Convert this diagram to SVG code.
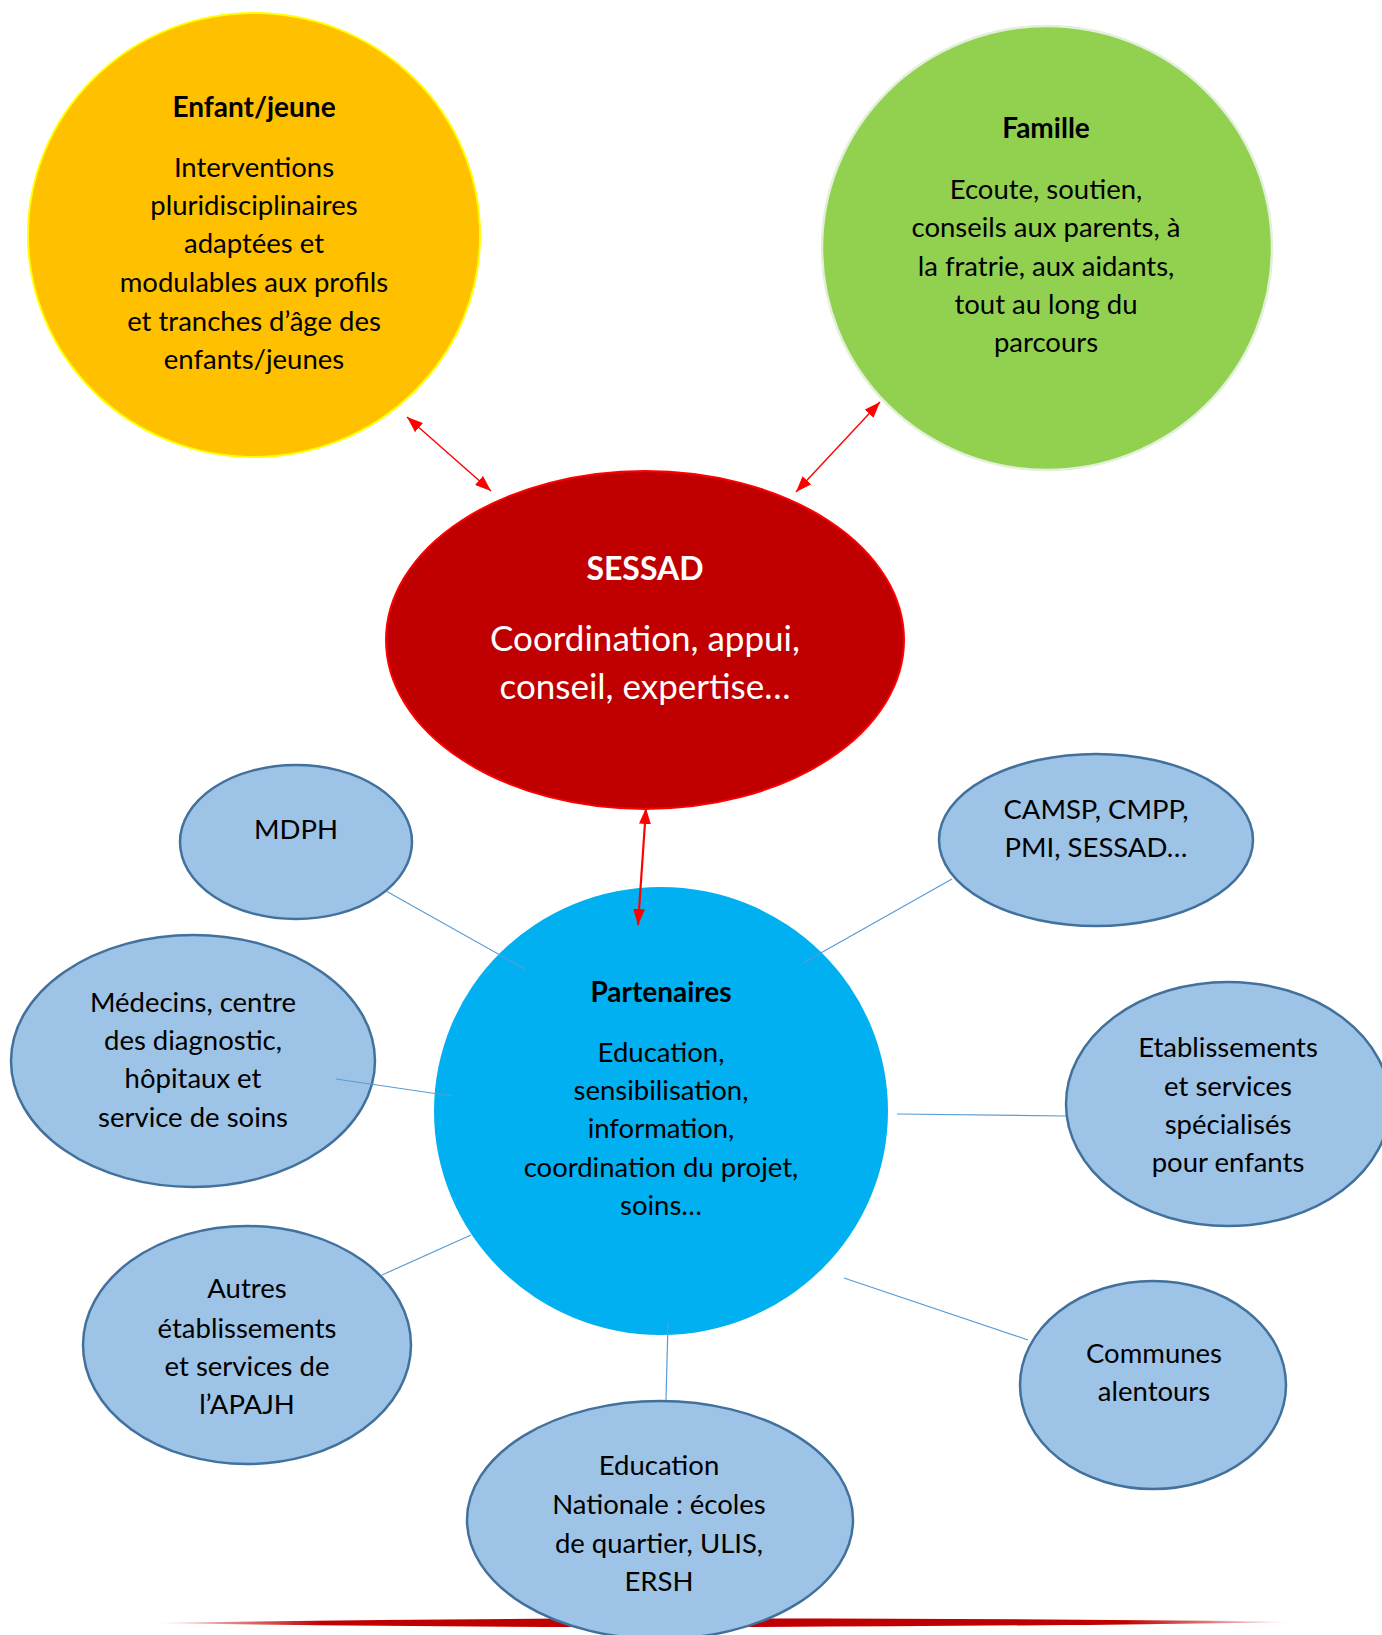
<svg xmlns="http://www.w3.org/2000/svg" width="1382" height="1635" viewBox="0 0 1382 1635">
<defs>
<style>
.t{font-family:Lato,"Open Sans","Liberation Sans",sans-serif;font-size:27.5px;fill:#000;text-anchor:middle}
.b{font-weight:bold;font-size:28px}
.w{fill:#fff}
.s{font-size:35px}
.st{font-size:32px}
.bl{fill:#9DC3E6;stroke:#41719C;stroke-width:2.5}
.cn{stroke:#5B9BD5;stroke-width:1.2;fill:none}
.ar{stroke:#FF0000;stroke-width:1.4;fill:none}
</style>
<marker id="ah" viewBox="0 0 16 12" refX="16" refY="6" markerWidth="16" markerHeight="12" markerUnits="userSpaceOnUse" orient="auto-start-reverse">
<path d="M0,0 L16,6 L0,12 Z" fill="#FF0000"/>
</marker>
<linearGradient id="rg" x1="0" x2="1" y1="0" y2="0">
<stop offset="0" stop-color="#C00000" stop-opacity="0"/>
<stop offset="0.15" stop-color="#C00000"/>
<stop offset="0.85" stop-color="#C00000"/>
<stop offset="1" stop-color="#C00000" stop-opacity="0"/>
</linearGradient>
</defs>
<rect width="1382" height="1635" fill="#fff"/>
<path d="M150,1623 C500,1617 900,1617 1298,1622 C900,1628 500,1629 150,1623 Z" fill="url(#rg)"/>

<g id="enfant">
<ellipse cx="254" cy="235" rx="226" ry="222" fill="#FFC000" stroke="#FFFF00" stroke-width="2"/>
<text class="t b" x="254" y="117">Enfant/jeune</text>
<text class="t" x="254" y="177">Interventions</text>
<text class="t" x="254" y="215">pluridisciplinaires</text>
<text class="t" x="254" y="253">adaptées et</text>
<text class="t" x="254" y="292">modulables aux profils</text>
<text class="t" x="254" y="331">et tranches d’âge des</text>
<text class="t" x="254" y="369">enfants/jeunes</text>
</g>

<g id="famille">
<ellipse cx="1047" cy="248" rx="225" ry="222" fill="#92D050" stroke="#E2F0D9" stroke-width="2.5"/>
<text class="t b" x="1046" y="138">Famille</text>
<text class="t" x="1046" y="199">Ecoute, soutien,</text>
<text class="t" x="1046" y="237">conseils aux parents, à</text>
<text class="t" x="1046" y="276">la fratrie, aux aidants,</text>
<text class="t" x="1046" y="314">tout au long du</text>
<text class="t" x="1046" y="352">parcours</text>
</g>

<g id="sessad">
<ellipse cx="645" cy="640" rx="259" ry="169" fill="#C00000" stroke="#FF0000" stroke-width="2"/>
<text class="t b w st" x="645" y="580">SESSAD</text>
<text class="t w s" x="645" y="651">Coordination, appui,</text>
<text class="t w s" x="645" y="699">conseil, expertise…</text>
</g>

<g id="partenaires">
<ellipse cx="661" cy="1111" rx="227" ry="224" fill="#00B0F0"/>
<text class="t b" x="661" y="1002">Partenaires</text>
<text class="t" x="661" y="1062">Education,</text>
<text class="t" x="661" y="1100">sensibilisation,</text>
<text class="t" x="661" y="1138">information,</text>
<text class="t" x="661" y="1177">coordination du projet,</text>
<text class="t" x="661" y="1215">soins…</text>
</g>

<g id="mdph">
<ellipse class="bl" cx="296" cy="842" rx="116" ry="77"/>
<text class="t" x="296" y="839">MDPH</text>
</g>

<g id="medecins">
<ellipse class="bl" cx="193" cy="1061" rx="182" ry="126"/>
<text class="t" x="193" y="1012">Médecins, centre</text>
<text class="t" x="193" y="1050">des diagnostic,</text>
<text class="t" x="193" y="1088">hôpitaux et</text>
<text class="t" x="193" y="1127">service de soins</text>
</g>

<g id="camsp">
<ellipse class="bl" cx="1096" cy="840" rx="157" ry="86"/>
<text class="t" x="1096" y="819">CAMSP, CMPP,</text>
<text class="t" x="1096" y="857">PMI, SESSAD…</text>
</g>

<g id="etablissements">
<ellipse class="bl" cx="1228" cy="1104" rx="162" ry="122"/>
<text class="t" x="1228" y="1057">Etablissements</text>
<text class="t" x="1228" y="1096">et services</text>
<text class="t" x="1228" y="1134">spécialisés</text>
<text class="t" x="1228" y="1172">pour enfants</text>
</g>

<g id="autres">
<ellipse class="bl" cx="247" cy="1345" rx="164" ry="119"/>
<text class="t" x="247" y="1298">Autres</text>
<text class="t" x="247" y="1338">établissements</text>
<text class="t" x="247" y="1376">et services de</text>
<text class="t" x="247" y="1414">l’APAJH</text>
</g>

<g id="communes">
<ellipse class="bl" cx="1153" cy="1385" rx="133" ry="104"/>
<text class="t" x="1154" y="1363">Communes</text>
<text class="t" x="1154" y="1401">alentours</text>
</g>

<g id="education">
<ellipse class="bl" cx="660" cy="1520" rx="193" ry="119"/>
<text class="t" x="659" y="1475">Education</text>
<text class="t" x="659" y="1514">Nationale : écoles</text>
<text class="t" x="659" y="1553">de quartier, ULIS,</text>
<text class="t" x="659" y="1591">ERSH</text>
</g>

<g id="connectors">
<line class="ar" x1="407" y1="417" x2="491" y2="491" marker-start="url(#ah)" marker-end="url(#ah)"/>
<line class="ar" x1="880" y1="402" x2="796" y2="492" marker-start="url(#ah)" marker-end="url(#ah)"/>
<line class="ar" style="stroke-width:2.2" x1="646" y1="808" x2="638" y2="925" marker-start="url(#ah)" marker-end="url(#ah)"/>
<line class="cn" x1="386" y1="891" x2="525" y2="969"/>
<line class="cn" x1="336" y1="1079" x2="452" y2="1096"/>
<line class="cn" x1="952" y1="879" x2="803" y2="963"/>
<line class="cn" x1="897" y1="1114" x2="1066" y2="1116"/>
<line class="cn" x1="382" y1="1275" x2="471" y2="1235"/>
<line class="cn" x1="844" y1="1278" x2="1028" y2="1340"/>
<line class="cn" x1="668" y1="1323" x2="666" y2="1400"/>
</g>
</svg>
